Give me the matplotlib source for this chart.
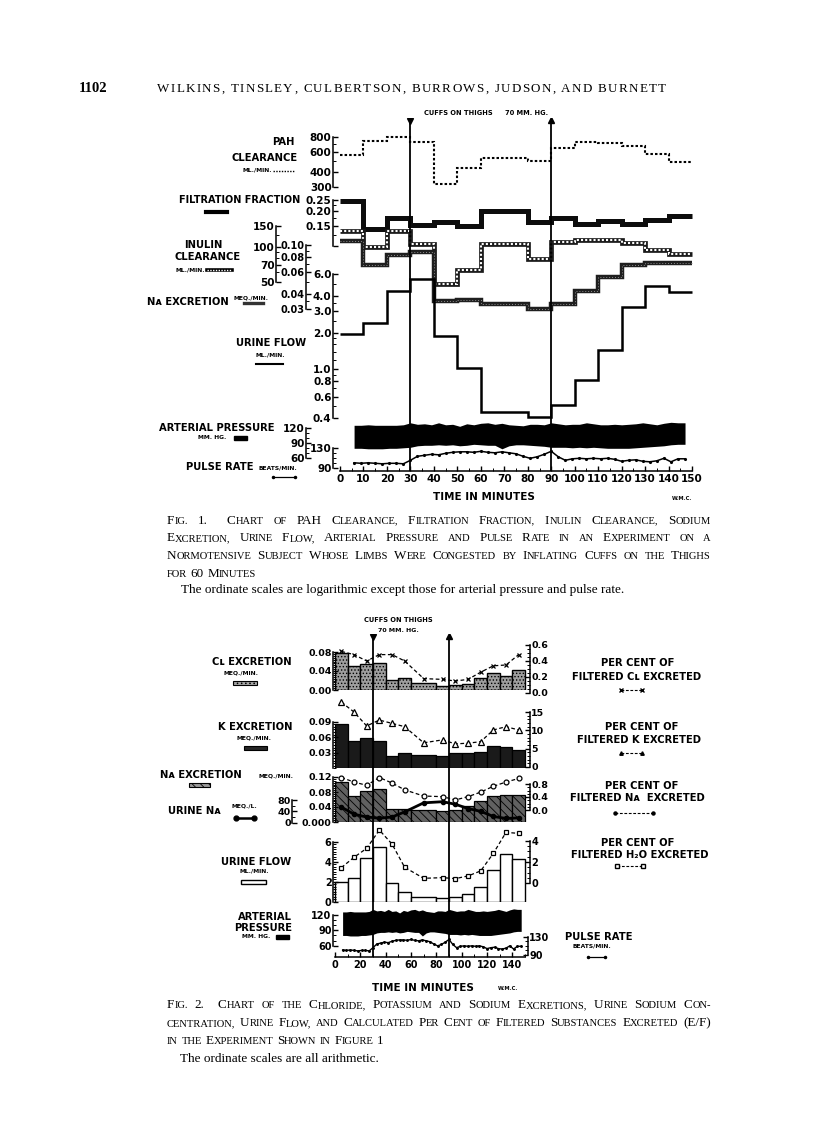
import matplotlib
matplotlib.use("Agg")
import matplotlib.pyplot as plt
import numpy as np
from matplotlib.patches import Rectangle
from matplotlib.ticker import FixedLocator, FixedFormatter, NullFormatter

plt.rcParams['font.family'] = ['DejaVu Sans']
plt.rcParams['font.weight'] = 'bold'
plt.rcParams['hatch.linewidth'] = 0.6

# ---- data (periods in minutes, same experiment for both figures) ----
edges = [0, 10, 20, 30, 40, 50, 60, 80, 90, 100, 110, 120, 130, 140, 150]
cuffs_on, cuffs_off = 30, 90

pah = [560, 740, 800, 725, 320, 440, 525, 500, 645, 725, 705, 670, 570, 493]
filt_frac = [0.245, 0.140, 0.176, 0.152, 0.160, 0.149, 0.202, 0.160, 0.174, 0.155, 0.166, 0.155, 0.168, 0.182]
inulin = [137, 100, 137, 106, 48, 63, 105, 79, 110, 113, 113, 108, 94, 87]
na_exc = [0.108, 0.069, 0.083, 0.087, 0.035, 0.036, 0.033, 0.030, 0.033, 0.042, 0.055, 0.069, 0.072, 0.072]
urine_flow = [1.95, 2.38, 4.35, 5.5, 1.87, 1.02, 0.45, 0.41, 0.51, 0.82, 1.44, 3.2, 4.8, 4.25]

cl_exc = [0.078, 0.050, 0.055, 0.056, 0.022, 0.025, 0.015, 0.008, 0.011, 0.013, 0.025, 0.035, 0.030, 0.043]
cl_pct = [0.52, 0.48, 0.40, 0.48, 0.48, 0.40, 0.18, 0.17, 0.15, 0.17, 0.26, 0.34, 0.35, 0.48]
k_exc = [0.085, 0.053, 0.059, 0.053, 0.024, 0.029, 0.026, 0.024, 0.029, 0.030, 0.032, 0.044, 0.041, 0.035]
k_pct = [17.7, 15.0, 11.2, 12.8, 11.9, 11.0, 6.6, 7.4, 6.3, 6.5, 6.9, 10.1, 11.0, 10.1]
na_pct = [1.0, 0.86, 0.76, 1.0, 0.83, 0.62, 0.43, 0.41, 0.31, 0.41, 0.55, 0.73, 0.86, 0.97]
urine_na = [55, 30, 20, 16, 20, 38, 70, 74, 65, 50, 40, 22, 15, 17]
h2o_pct = [1.47, 2.44, 3.28, 5.0, 3.69, 1.5, 0.47, 0.53, 0.44, 0.69, 1.16, 2.81, 4.78, 4.69]

art_t = [6, 9, 12, 15, 18, 21, 24, 27, 30, 33, 36, 39, 42, 45, 48, 51, 54, 57, 60, 63, 66, 69, 72, 75,
         78, 81, 84, 87, 90, 93, 96, 99, 102, 105, 108, 111, 114, 117, 120, 123, 126, 129, 132, 135, 138, 141, 144, 147]
art_sys = [126, 126, 127, 126, 126, 126, 126, 127, 131, 128, 129, 127, 131, 127, 128, 124,
           129, 127, 130, 131, 128, 130, 127, 126, 125, 128, 128, 127, 131, 129, 127, 128,
           128, 131, 129, 127, 127, 128, 127, 128, 129, 131, 129, 127, 130, 132, 131, 131]
art_dia = [80, 80, 79, 79, 79, 80, 80, 81, 82, 85, 86, 86, 87, 86, 87, 85,
           86, 88, 87, 86, 86, 79, 85, 87, 87, 86, 85, 84, 82, 82, 82, 81,
           82, 81, 82, 81, 80, 80, 80, 80, 81, 82, 83, 84, 85, 87, 88, 88]
pulse = [101, 100, 101, 100, 99, 100, 100, 99, 106, 114, 116, 118, 117, 120, 122, 123,
         123, 122, 124, 122, 121, 123, 121, 119, 114, 110, 113, 118, 124, 113, 106, 109,
         110, 109, 110, 109, 110, 108, 104, 106, 107, 104, 103, 105, 110, 103, 109, 109]

mid = [(a + b) / 2 for a, b in zip(edges[:-1], edges[1:])]
widths = np.diff(edges)

W, H = 816, 1121
fig = plt.figure(figsize=(W / 100, H / 100), dpi=100)
fig.patch.set_facecolor('white')

ov = fig.add_axes([0, 0, 1, 1])
ov.set_xlim(0, W)
ov.set_ylim(H, 0)
ov.axis('off')

F1 = (333, 697, (-2.98, 152.1))
F2 = (333, 530, (-1.58, 153.95))


def frame(x0, x1, top, bot):
    return [x0 / W, 1 - bot / H, (x1 - x0) / W, (bot - top) / H]


def scale_ax(f, top, bot, ylim, ticks, labels, minor=(), side='left', out=0, log=False, fs=7.5):
    ax = fig.add_axes(frame(f[0], f[1], top, bot))
    ax.patch.set_visible(False)
    if log:
        ax.set_yscale('log')
    ax.set_xlim(*f[2])
    ax.set_ylim(*ylim)
    for s in ax.spines.values():
        s.set_visible(False)
    sp = ax.spines[side]
    sp.set_visible(True)
    sp.set_linewidth(1.1)
    sp.set_bounds(*ylim)
    sp.set_position(('outward', out * 0.72))
    ax.set_xticks([])
    ax.yaxis.set_ticks_position(side)
    ax.yaxis.set_label_position(side)
    ax.yaxis.set_major_locator(FixedLocator(ticks))
    ax.yaxis.set_major_formatter(FixedFormatter(labels))
    ax.yaxis.set_minor_locator(FixedLocator(list(minor)))
    ax.yaxis.set_minor_formatter(NullFormatter())
    ax.tick_params(axis='y', which='major', direction='in', length=3.5, width=1, pad=1, labelsize=fs)
    ax.tick_params(axis='y', which='minor', direction='in', length=2, width=0.7)
    return ax


def time_ax(f, y, ticks, minor, fs):
    ax = fig.add_axes(frame(f[0], f[1], y - 8, y))
    ax.patch.set_visible(False)
    ax.set_xlim(*f[2])
    ax.set_ylim(0, 1)
    for s in ax.spines.values():
        s.set_visible(False)
    ax.spines['bottom'].set_visible(True)
    ax.spines['bottom'].set_linewidth(1.1)
    ax.spines['bottom'].set_bounds(0, 150)
    ax.set_yticks([])
    ax.xaxis.set_major_locator(FixedLocator(ticks))
    ax.xaxis.set_major_formatter(FixedFormatter([str(t) for t in ticks]))
    ax.xaxis.set_minor_locator(FixedLocator(minor))
    ax.tick_params(axis='x', which='major', direction='in', length=3.5, width=1, pad=2, labelsize=fs)
    ax.tick_params(axis='x', which='minor', direction='in', length=2, width=0.7)
    return ax


def cuff_ax(f, top, bot):
    ax = fig.add_axes(frame(f[0], f[1], top, bot))
    ax.set_xlim(*f[2])
    ax.set_ylim(bot, top)
    ax.axis('off')
    ax.vlines([cuffs_on, cuffs_off], bot, top + 4, color='k', lw=1.3)
    ax.plot([cuffs_on], [top + 3], marker='v', ms=5, color='k')
    ax.plot([cuffs_off], [top + 2], marker='^', ms=5, color='k')
    return ax


# ================= FIGURE 1 =================
ax = scale_ax(F1, 136.7, 187.3, (300, 800), [300, 400, 600, 800], ['300', '400', '600', '800'],
              minor=[500, 700], log=True)
ax.stairs(pah, edges, baseline=None, color='k', lw=1.5, linestyle=(0, (1.2, 1.0)), clip_on=False)

ax = scale_ax(F1, 200, 246, (0.10, 0.25), [0.10, 0.15, 0.20, 0.25], ['', '0.15', '0.20', '0.25'],
              minor=[0.125, 0.175, 0.225], log=True)
ax.stairs(filt_frac, edges, baseline=None, color='0.05', lw=3.6, clip_on=False)

ax = scale_ax(F1, 226, 281.7, (50, 150), [50, 70, 100, 150], ['50', '70', '100', '150'],
              minor=[60, 80, 90, 125], out=57, log=True)
ax.stairs(inulin, edges, baseline=None, color='0.1', lw=3.4, clip_on=False)
ax.stairs(inulin, edges, baseline=None, color='white', lw=1.5, linestyle=(0, (1, 1)), clip_on=False)

ax = scale_ax(F1, 245, 309.3, (0.03, 0.10), [0.03, 0.04, 0.06, 0.08, 0.10],
              ['0.03', '0.04', '0.06', '0.08', '0.10'], minor=[0.035, 0.05, 0.07, 0.09],
              out=27, log=True, fs=7)
ax.stairs(na_exc, edges, baseline=None, color='0.12', lw=3.2, clip_on=False)
ax.stairs(na_exc, edges, baseline=None, color='0.55', lw=0.7, linestyle=(0, (1, 2)), clip_on=False)

ax = scale_ax(F1, 274, 418.3, (0.4, 6.0), [0.4, 0.6, 0.8, 1.0, 2.0, 3.0, 4.0, 6.0],
              ['0.4', '0.6', '0.8', '1.0', '2.0', '3.0', '4.0', '6.0'],
              minor=[0.5, 0.7, 0.9, 1.2, 1.4, 1.6, 1.8, 2.5, 3.5, 5.0], log=True)
ax.stairs(urine_flow, edges, baseline=None, color='k', lw=1.8, clip_on=False)

ax = scale_ax(F1, 428.3, 458.3, (60, 120), [60, 90, 120], ['60', '90', '120'],
              minor=[70, 80, 100, 110], out=27)
ax.fill_between(art_t, art_dia, art_sys, color='k', lw=0, clip_on=False)

ax = scale_ax(F1, 448.3, 468.3, (90, 130), [90, 130], ['90', '130'], minor=[100, 110, 120])
ax.plot(art_t, pulse, color='k', lw=1.1, marker='.', ms=2.5, clip_on=False)

time_ax(F1, 471, list(range(0, 151, 10)), list(range(5, 150, 10)), 7.5)
cuff_ax(F1, 118, 471)

# ================= FIGURE 2 =================
ax = scale_ax(F2, 652, 690, (0, 0.08), [0, 0.04, 0.08], ['0.00', '0.04', '0.08'],
              minor=np.linspace(0, 0.08, 21), fs=6.8)
ax.bar(edges[:-1], cl_exc, width=widths, align='edge', color='0.62', edgecolor='k', lw=1.0, hatch='.....')
ax = scale_ax(F2, 645, 693, (0, 0.6), [0, 0.2, 0.4, 0.6], ['0.0', '0.2', '0.4', '0.6'],
              minor=np.linspace(0, 0.6, 13), side='right', fs=6.8)
ax.plot(mid, cl_pct, color='k', lw=0.9, ls=(0, (3, 2)), marker='x', ms=3, mew=0.9, clip_on=False)

ax = scale_ax(F2, 721.7, 768.3, (0, 0.09), [0.03, 0.06, 0.09], ['0.03', '0.06', '0.09'],
              minor=np.linspace(0, 0.09, 19), fs=6.8)
ax.bar(edges[:-1], k_exc, width=widths, align='edge', color='0.1', edgecolor='k', lw=0.9)
ax = scale_ax(F2, 712, 767, (0, 15), [0, 5, 10, 15], ['0', '5', '10', '15'],
              minor=range(16), side='right', fs=6.8)
ax.plot(mid, k_pct, color='k', lw=0.9, ls=(0, (3, 2)), marker='^', ms=3.8, mfc='white', mec='k',
        mew=0.9, clip_on=False)

ax = scale_ax(F2, 777, 822, (0, 0.12), [0, 0.04, 0.08, 0.12], ['0.000', '0.04', '0.08', '0.12'],
              minor=np.linspace(0, 0.12, 25), fs=6.8)
ax.bar(edges[:-1], na_exc, width=widths, align='edge', color='0.38', edgecolor='k', lw=0.9, hatch='\\\\\\\\')
ax = scale_ax(F2, 800, 822.7, (0, 80), [0, 40, 80], ['0', '40', '80'], minor=[20, 60], out=41, fs=6.8)
ax.plot(mid, urine_na, color='k', lw=2, marker='o', ms=3, clip_on=False)
ax = scale_ax(F2, 784, 810, (0, 0.8), [0, 0.4, 0.8], ['0.0', '0.4', '0.8'],
              minor=np.linspace(0, 0.8, 9), side='right', fs=6.8)
ax.plot(mid, na_pct, color='k', lw=0.9, ls=(0, (3, 2)), marker='o', ms=3.5, mfc='white', mec='k',
        mew=0.9, clip_on=False)

ax = scale_ax(F2, 841.7, 901.7, (0, 6), [0, 2, 4, 6], ['0', '2', '4', '6'],
              minor=np.linspace(0, 6, 25), fs=7)
ax.bar(edges[:-1], urine_flow, width=widths, align='edge', color='white', edgecolor='k', lw=1)
ax = scale_ax(F2, 840.7, 883.3, (0, 4), [0, 2, 4], ['0', '2', '4'],
              minor=np.linspace(0, 4, 9), side='right', fs=7)
ax.plot(mid, h2o_pct, color='k', lw=0.9, ls=(0, (3, 2)), marker='s', ms=3, mfc='white', mec='k',
        mew=0.9, clip_on=False)

ax = scale_ax(F2, 915, 945.7, (60, 120), [60, 90, 120], ['60', '90', '120'],
              minor=[70, 80, 100, 110], fs=7)
ax.fill_between(art_t, art_dia, art_sys, color='k', lw=0, clip_on=False)
ax = scale_ax(F2, 936.7, 955, (90, 130), [90, 130], ['90', '130'], minor=[100, 110, 120],
              side='right', out=-2, fs=7)
ax.plot(art_t, pulse, color='k', lw=1.0, marker='.', ms=2.2, clip_on=False)

time_ax(F2, 957, list(range(0, 141, 20)), list(range(10, 151, 20)), 7)
cuff_ax(F2, 634, 957)


# ================= lettering =================
def lab(x, y, s, size=7.2, ha='center'):
    ov.text(x, y, s, fontsize=size, ha=ha, va='center', fontweight='bold')


U = 4.3
# fig 1 left labels
lab(283, 142, 'PAH')
lab(265, 158, 'CLEARANCE')
lab(257, 170.5, 'ML./MIN.', U)
ov.plot([273, 294], [170.5, 170.5], color='k', lw=1.0, ls=(0, (1, 1)))
lab(300, 200, 'FILTRATION FRACTION', 7.0, ha='right')
ov.plot([206, 227], [211.7, 211.7], color='k', lw=3)
lab(203, 245, 'INULIN')
lab(208, 257, 'CLEARANCE')
lab(190, 270, 'ML./MIN.', U)
ov.plot([207, 232], [270, 270], color='k', lw=2.6)
ov.plot([207, 232], [270, 270], color='white', lw=1.0, ls=(0, (1, 1)))
lab(188, 302, 'Nᴀ EXCRETION')
lab(251, 297.5, 'MEQ./MIN.', U)
ov.plot([244, 263], [303.3, 303.3], color='0.2', lw=2.4)
lab(271, 343, 'URINE FLOW')
lab(270, 355, 'ML./MIN.', U)
ov.plot([256, 283], [364, 364], color='k', lw=1.5)
lab(217, 428, 'ARTERIAL PRESSURE')
lab(212, 437.5, 'MM. HG.', U)
ov.add_patch(Rectangle((234, 435.5), 13, 4, fc='k', ec='k'))
lab(219.5, 467, 'PULSE RATE')
lab(278, 467.5, 'BEATS/MIN.', U)
ov.plot([273, 295], [477, 477], color='k', lw=0.9, marker='.', ms=3)
lab(484, 497.5, 'TIME IN MINUTES', 7.5)
lab(682, 499, 'W.M.C.', 3.8)
lab(458, 113, 'CUFFS ON THIGHS', 4.8)
lab(527, 113, '70 MM. HG.', 4.8)

# fig 2 left labels
lab(398, 620, 'CUFFS ON THIGHS', 4.8)
lab(398, 630.5, '70 MM. HG.', 4.5)
lab(251.5, 662.3, 'Cʟ EXCRETION')
lab(241, 673.3, 'MEQ./MIN.', U)
ov.add_patch(Rectangle((233, 680.5), 24, 4.5, fc='0.65', ec='k', lw=0.8, hatch='....'))
lab(255.5, 727.3, 'K EXCRETION')
lab(254, 737.7, 'MEQ./MIN.', U)
ov.add_patch(Rectangle((244, 745.5), 23, 4.5, fc='0.15', ec='k', lw=0.8))
lab(200.5, 775, 'Nᴀ EXCRETION')
lab(276, 775.7, 'MEQ./MIN.', U)
ov.add_patch(Rectangle((189, 782.8), 21, 4.5, fc='0.6', ec='k', lw=0.8, hatch='\\\\\\\\'))
lab(194, 811, 'URINE Nᴀ')
lab(244, 806, 'MEQ./L.', U)
ov.plot([236, 254], [818.3, 818.3], color='k', lw=1.8, marker='o', ms=3.5)
lab(256.5, 861.7, 'URINE FLOW')
lab(254.5, 870.7, 'ML./MIN.', U)
ov.add_patch(Rectangle((241, 879.5), 25, 4.5, fc='white', ec='k', lw=1))
lab(264.5, 916.7, 'ARTERIAL')
lab(263.5, 927.7, 'PRESSURE')
lab(256, 936.7, 'MM. HG.', U)
ov.add_patch(Rectangle((276, 934.7), 13, 4, fc='k', ec='k'))
lab(565, 936.7, 'PULSE RATE', ha='left')
lab(591.5, 946, 'BEATS/MIN.', U)
ov.plot([588, 605], [956.7, 956.7], color='k', lw=0.9, marker='.', ms=3)
lab(423, 987.7, 'TIME IN MINUTES', 7.5)
lab(508, 988, 'W.M.C.', 3.8)

# fig 2 right labels
dash = (0, (2.5, 1.5))
lab(638, 662.7, 'PER CENT OF')
lab(637, 676.7, 'FILTERED Cʟ EXCRETED')
ov.plot([621, 642], [690, 690], color='k', lw=0.8, ls=dash, marker='x', ms=2.5)
lab(642, 726.7, 'PER CENT OF')
lab(639, 740, 'FILTERED K EXCRETED')
ov.plot([621, 642], [752.7, 752.7], color='k', lw=0.8, ls=dash, marker='^', ms=2.5)
lab(642, 786, 'PER CENT OF')
lab(637, 798.3, 'FILTERED Nᴀ  EXCRETED')
ov.plot([615, 653], [812.7, 812.7], color='k', lw=0.8, ls=dash, marker='o', ms=2.2)
lab(637.6, 843.3, 'PER CENT OF')
lab(639.4, 855, 'FILTERED H₂O EXCRETED')
ov.plot([617, 643], [866, 866], color='k', lw=0.8, ls=dash, marker='s', ms=2.5, mfc='white')

# ================= page text (serif) =================
renderer = fig.canvas.get_renderer()
SERIF = dict(family='Liberation Serif', fontweight='normal')


def measure(s, size, **kw):
    t = ov.text(0, 0, s, fontsize=size, **kw)
    w = t.get_window_extent(renderer).width
    t.remove()
    return w


def sc_runs(word):
    runs = []
    for ch in word:
        big = not ch.islower()
        if not ch.isalnum() and runs:
            big = runs[-1][1]
        c = ch.upper()
        if runs and runs[-1][1] == big:
            runs[-1][0] += c
        else:
            runs.append([c, big])
    return runs


def sc_widths(text, big, small):
    words = [sc_runs(w) for w in text.split(' ')]
    ww = [[measure(r, big if b else small, **SERIF) for r, b in runs] for runs in words]
    return words, ww


def sc_line(text, x0, x1, y, big, small, justify=True):
    words, ww = sc_widths(text, big, small)
    total = sum(sum(w) for w in ww)
    gap = (x1 - x0 - total) / (len(words) - 1) if justify else 0.27 * big * 100 / 72
    x = x0
    for runs, w in zip(words, ww):
        for (r, b), wi in zip(runs, w):
            ov.text(x, y, r, fontsize=big if b else small, ha='left', va='baseline', **SERIF)
            x += wi
        x += gap


def fit_sizes(lines, x0, x1):
    f = 10.0
    for t in lines:
        words, ww = sc_widths(t, 10, 8)
        total = sum(sum(w) for w in ww)
        f = min(f, 10 * (x1 - x0 - 4.5 * (len(words) - 1)) / total)
    return f, f * 0.8


cap1 = ["Fig. 1.  Chart of PAH Clearance, Filtration Fraction, Inulin Clearance, Sodium",
        "Excretion, Urine Flow, Arterial Pressure and Pulse Rate in an Experiment on a",
        "Normotensive Subject Whose Limbs Were Congested by Inflating Cuffs on the Thighs"]
cap2 = ["Fig. 2.  Chart of the Chloride, Potassium and Sodium Excretions, Urine Sodium Con-",
        "centration, Urine Flow, and Calculated Per Cent of Filtered Substances Excreted (E/F)"]
big, small = fit_sizes(cap1 + cap2, 167, 711)

for i, t in enumerate(cap1):
    sc_line(t, 167, 711, 523.5 + 17.9 * i, big, small)
sc_line("for 60 Minutes", 167, 711, 523.5 + 17.9 * 3, big, small, justify=False)

note1 = "The ordinate scales are logarithmic except those for arterial pressure and pulse rate."
note2 = "The ordinate scales are all arithmetic."
note_size = 10 * (625 - 181) / measure(note1, 10, **SERIF)
ov.text(181, 593, note1, fontsize=note_size, ha='left', va='baseline', **SERIF)

for i, t in enumerate(cap2):
    sc_line(t, 167, 711, 1008 + 17.9 * i, big, small)
sc_line("in the Experiment Shown in Figure 1", 167, 711, 1008 + 17.9 * 2, big, small, justify=False)
ov.text(180, 1061.5, note2, fontsize=note_size, ha='left', va='baseline', **SERIF)

# running head
ov.text(79, 92, '1102', fontsize=10.5, ha='left', va='baseline', family='Liberation Serif', fontweight='bold')
head = "WILKINS, TINSLEY, CULBERTSON, BURROWS, JUDSON, AND BURNETT"
hsize = 9.4
hspace = measure('N N', hsize, **SERIF) - measure('NN', hsize, **SERIF)
hw = [measure(c, hsize, **SERIF) if c != ' ' else hspace for c in head]
hgap = (666 - 157 - sum(hw)) / (len(head) - 1)
x = 157
for c, w in zip(head, hw):
    if c != ' ':
        ov.text(x, 92, c, fontsize=hsize, ha='left', va='baseline', **SERIF)
    x += w + hgap

fig.savefig('out.png', dpi=100)
